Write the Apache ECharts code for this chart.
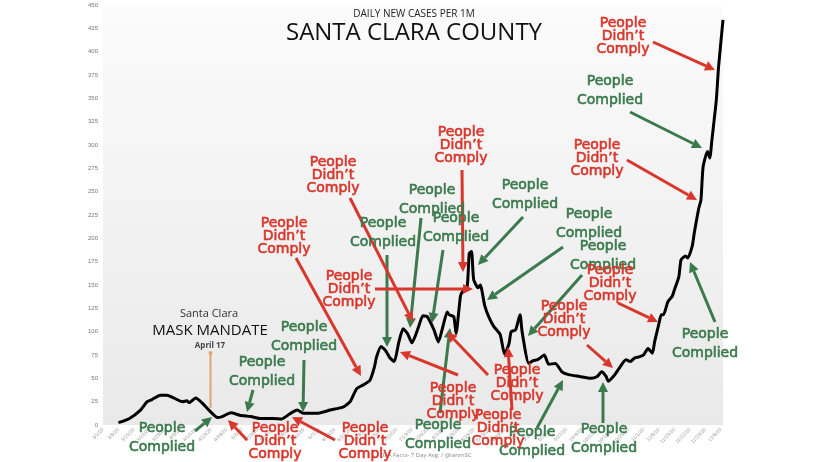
<!DOCTYPE html>
<html>
<head>
<meta charset="utf-8">
<title>Santa Clara County - daily new cases per 1M</title>
<script src="https://cdn.jsdelivr.net/npm/echarts@6/dist/echarts.min.js"></script>
<style>
html, body { margin: 0; padding: 0; background: #fff; }
#chart { width: 828px; height: 462px; }
</style>
</head>
<body>
<div id="chart"></div>
<script>
// daily categories 3/1/20 .. 12/7/20, a label every 7 days
const firstDay = new Date(2020, 2, 1)
const dayCount = 282
const labelEvery = 7

const yMin = 0
const yMax = 450
const yStep = 25

// 7 day average
const avgDates = [
  '3/8/20', '3/13/20', '3/18/20', '3/21/20', '3/23/20', '3/27/20', '3/30/20', '4/2/20', '4/6/20', '4/8/20',
  '4/9/20', '4/12/20', '4/15/20', '4/18/20', '4/22/20', '4/24/20', '4/28/20', '5/2/20', '5/7/20', '5/11/20',
  '5/17/20', '5/21/20', '5/25/20', '5/28/20', '5/31/20', '6/6/20', '6/12/20', '6/18/20', '6/21/20', '6/24/20',
  '6/27/20', '6/30/20', '7/2/20', '7/3/20', '7/5/20', '7/7/20', '7/9/20', '7/11/20', '7/13/20', '7/15/20',
  '7/17/20', '7/19/20', '7/22/20', '7/24/20', '7/26/20', '7/29/20', '7/31/20', '8/2/20', '8/4/20', '8/5/20',
  '8/7/20', '8/8/20', '8/10/20', '8/11/20', '8/13/20', '8/14/20', '8/15/20', '8/16/20', '8/18/20', '8/19/20',
  '8/21/20', '8/23/20', '8/25/20', '8/28/20', '8/30/20', '9/1/20', '9/2/20', '9/4/20', '9/6/20', '9/7/20',
  '9/10/20', '9/12/20', '9/14/20', '9/17/20', '9/19/20', '9/22/20', '9/25/20', '9/28/20', '10/3/20', '10/8/20',
  '10/11/20', '10/13/20', '10/15/20', '10/16/20', '10/19/20', '10/21/20', '10/24/20', '10/26/20', '10/28/20', '10/30/20',
  '11/1/20', '11/3/20', '11/5/20', '11/6/20', '11/8/20', '11/9/20', '11/10/20', '11/12/20', '11/14/20', '11/15/20',
  '11/17/20', '11/18/20', '11/20/20', '11/21/20', '11/23/20', '11/24/20', '11/26/20', '11/27/20', '11/28/20', '11/30/20',
  '12/1/20', '12/2/20', '12/3/20', '12/4/20', '12/5/20', '12/7/20'
]
const avgValues = [
  2.5, 7, 16, 25, 27, 32, 32, 29, 25, 26,
  24, 29, 23.5, 16, 8, 9, 13, 10.5, 9, 7,
  7, 6.5, 12.5, 16, 12.5, 12.5, 16, 19.5, 25, 39,
  43, 48, 62, 73, 84, 80, 72, 68, 88, 103,
  98, 88, 105, 117, 116, 102, 89, 105, 121, 118,
  116, 98, 138, 143, 147, 184, 186, 156, 147, 150,
  128, 115, 106, 97, 76, 87, 100, 102, 118, 99,
  66, 69, 70, 75, 65, 66, 57, 54, 52, 50,
  52, 57, 52, 47, 54, 61, 70, 68, 72, 73,
  75, 82, 77, 89, 109, 118, 118, 132, 138, 145,
  159, 177, 181, 179, 191, 206, 232, 241, 277, 293,
  286, 306, 327, 349, 384, 434
]

const greenNotes = [
  { x: 162, y: 438, from: [195, 431], to: [212, 417] },
  { x: 262, y: 372, from: [253, 390], to: [247, 412] },
  { x: 304, y: 337, from: [304, 360], to: [303, 412] },
  { x: 383, y: 233, from: [387, 255], to: [387, 347] },
  { x: 432, y: 200, from: [421, 218], to: [410, 328] },
  { x: 456, y: 228, from: [443, 250], to: [432, 323] },
  { x: 525, y: 195, from: [523, 217], to: [478, 265] },
  { x: 589, y: 224, from: [563, 247], to: [487, 300] },
  { x: 603, y: 256, from: [582, 275], to: [528, 336] },
  { x: 705, y: 344, from: [715, 322], to: [690, 262] },
  { x: 610, y: 91, from: [630, 112], to: [702, 148] },
  { x: 438, y: 435, from: [440, 413], to: [450, 328] },
  { x: 532, y: 442, from: [537, 428], to: [563, 380] },
  { x: 604, y: 439, from: [603, 423], to: [603, 382] }
]
const redNotes = [
  { x: 275, y: 441, from: [247, 440], to: [228, 420] },
  { x: 365, y: 441, from: [335, 440], to: [292, 417] },
  { x: 284, y: 236, from: [296, 258], to: [361, 376] },
  { x: 333, y: 175, from: [350, 198], to: [413, 322] },
  { x: 349, y: 289, from: [375, 289], to: [473, 289] },
  { x: 461, y: 145, from: [462, 170], to: [463, 272] },
  { x: 564, y: 319, from: [587, 345], to: [613, 368] },
  { x: 610, y: 283, from: [618, 303], to: [658, 322] },
  { x: 597, y: 158, from: [627, 160], to: [697, 200] },
  { x: 623, y: 36, from: [653, 42], to: [715, 70] },
  { x: 453, y: 401, from: [458, 375], to: [400, 352] },
  { x: 517, y: 383, from: [488, 375], to: [447, 332] },
  { x: 498, y: 428, from: [512, 410], to: [508, 347] }
]

const GREEN = '#3a7a4c'
const RED = '#d8372c'

function buildDates() {
  const list = []
  for (let i = 0; i < dayCount; i += 1) {
    const d = new Date(firstDay.getTime())
    d.setDate(firstDay.getDate() + i)
    list.push((d.getMonth() + 1) + '/' + d.getDate() + '/20')
  }
  return list
}

function arrow(from, to, color) {
  const dx = to[0] - from[0]
  const dy = to[1] - from[1]
  const len = Math.sqrt(dx * dx + dy * dy)
  const ux = dx / len
  const uy = dy / len
  const head = 10
  const half = 5
  const bx = to[0] - ux * head
  const by = to[1] - uy * head
  return [
    {
      type: 'line',
      z: 100,
      shape: { x1: from[0], y1: from[1], x2: bx, y2: by },
      style: { stroke: color, lineWidth: 3 },
    },
    {
      type: 'polygon',
      z: 100,
      shape: {
        points: [to, [bx - uy * half, by + ux * half], [bx + uy * half, by - ux * half]],
      },
      style: { fill: color },
    },
  ]
}

function noteElements(notes, text, color, lineHeight) {
  const els = []
  notes.forEach((n) => {
    els.push(...arrow(n.from, n.to, color))
    els.push({
      type: 'text',
      z: 101,
      x: n.x,
      y: n.y,
      style: {
        text: text,
        fill: color,
        stroke: color,
        lineWidth: 0.6,
        font: '14px "DejaVu Sans"',
        lineHeight: lineHeight,
        align: 'center',
        verticalAlign: 'middle',
      },
    })
  })
  return els
}

const dates = buildDates()
const chart = echarts.init(document.getElementById('chart'))

const graphic = [
  {
    type: 'text', left: 'center', top: 9,
    style: { text: 'DAILY NEW CASES PER 1M', font: '10px "Open Sans"', fill: '#222' },
  },
  {
    type: 'text', left: 'center', top: 21,
    style: { text: 'SANTA CLARA COUNTY', font: '24px "Open Sans"', fill: '#111' },
  },
  {
    type: 'text', x: 209, y: 314,
    style: { text: 'Santa Clara', font: '11px "Open Sans"', fill: '#333', align: 'center', verticalAlign: 'middle' },
  },
  {
    type: 'text', x: 210, y: 331,
    style: { text: 'MASK MANDATE', font: '15px "Open Sans"', fill: '#111', align: 'center', verticalAlign: 'middle' },
  },
  {
    type: 'text', x: 210, y: 346,
    style: { text: 'April 17', font: 'bold 8px "Open Sans"', fill: '#444', align: 'center', verticalAlign: 'middle' },
  },
  {
    type: 'line',
    shape: { x1: 210.5, y1: 353, x2: 210.5, y2: 408 },
    style: { stroke: '#e3a46e', lineWidth: 2 },
  },
  {
    type: 'circle',
    shape: { cx: 210.5, cy: 353, r: 2 },
    style: { fill: '#e3a46e' },
  },
  {
    type: 'text', x: 380, y: 455,
    style: { text: 'USA Facts- 7 Day Avg. / @ianmSC', font: '6px "Open Sans"', fill: '#888', verticalAlign: 'middle' },
  },
  ...noteElements(greenNotes, 'People\nComplied', GREEN, 19),
  ...noteElements(redNotes, 'People\nDidn’t\nComply', RED, 13),
]

chart.setOption({
  animation: false,
  grid: {
    left: 103,
    right: 105,
    top: 5,
    bottom: 37,
    show: true,
    borderWidth: 0,
    backgroundColor: new echarts.graphic.LinearGradient(0, 0, 0, 1, [
      { offset: 0, color: '#fbfbfb' },
      { offset: 1, color: '#e9e9e9' },
    ]),
  },
  xAxis: {
    type: 'category',
    data: dates,
    boundaryGap: false,
    axisLine: { show: false },
    axisTick: { show: false },
    axisLabel: {
      interval: (index) => index % labelEvery === 0,
      rotate: 45,
      fontSize: 5,
      color: '#999',
      margin: 4,
    },
  },
  yAxis: {
    type: 'value',
    min: yMin,
    max: yMax,
    interval: yStep,
    axisLine: { show: false },
    axisTick: { show: false },
    splitLine: { show: false },
    axisLabel: { fontSize: 6, color: '#777', margin: 5 },
  },
  series: [{
    type: 'line',
    data: avgDates.map((d, i) => [d, avgValues[i]]),
    showSymbol: false,
    smooth: 0.2,
    lineStyle: { color: '#000', width: 3 },
  }],
  graphic: graphic,
})
</script>
</body>
</html>
